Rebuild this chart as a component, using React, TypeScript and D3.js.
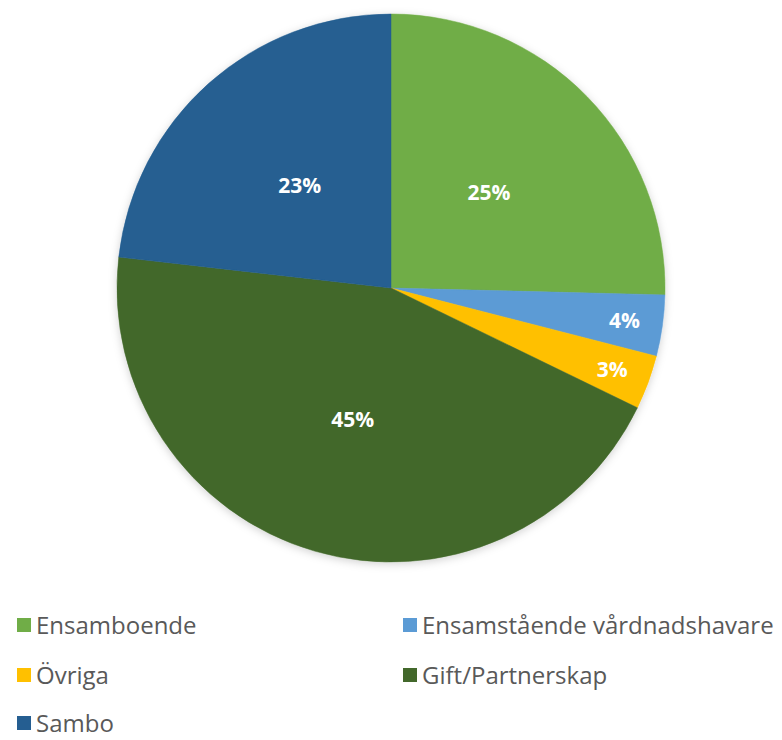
import React from "react";
import * as d3 from "d3";

const categories = ["Ensamboende", "Ensamstående vårdnadshavare", "Övriga", "Gift/Partnerskap", "Sambo"];
const values = [25.4, 3.6, 3.2, 44.6, 23.2];
const colors = ["#70AD47", "#5B9BD5", "#FFC000", "#43682B", "#255E91"];

const W = 782;
const H = 740;
const cx = 391;
const cy = 288;
const R = 274;

export default function App() {
  const data = categories.map((c, i) => ({ name: c, value: values[i], color: colors[i] }));
  const pie = d3.pie<any>().sort(null).value((d: any) => d.value);
  const arcs = pie(data);
  const arcGen = d3.arc<any>().innerRadius(0).outerRadius(R);
  const total = d3.sum(values);
  const fmt = (v: number) => `${Math.round((v / total) * 100)}%`;

  const legendCols = [17, 403];
  const legendRows = [625, 675, 723];

  return (
    <svg width={W} height={H} style={{ position: "absolute", left: 0, top: 0, background: "#fff" }}>
      <defs>
        <filter id="sh" x="-10%" y="-10%" width="120%" height="120%">
          <feDropShadow dx="0" dy="2" stdDeviation="4" floodColor="#000" floodOpacity="0.18" />
        </filter>
      </defs>
      <g transform={`translate(${cx},${cy})`}>
        <g filter="url(#sh)">
          {arcs.map((a, i) => (
            <path key={i} d={arcGen(a) as string} fill={a.data.color} stroke={a.data.color} strokeWidth={0.5} />
          ))}
        </g>
        {arcs.map((a, i) => {
          const rr = a.data.value < 10 ? R * 0.86 : R * 0.5;
          const lab = d3.arc<any>().innerRadius(rr).outerRadius(rr);
          const [x, y] = lab.centroid(a);
          return (
            <text
              key={"l" + i}
              x={x}
              y={y}
              dy="0.36em"
              textAnchor="middle"
              fill="#fff"
              fontFamily="'Open Sans', sans-serif"
              fontWeight={700}
              fontSize={21}
            >
              {fmt(a.data.value)}
            </text>
          );
        })}
      </g>
      <g>
        {data.map((d, i) => {
          const col = i % 2;
          const row = Math.floor(i / 2);
          const x = legendCols[col];
          const y = legendRows[row];
          return (
            <g key={"lg" + i} transform={`translate(${x},${y})`}>
              <rect x={0} y={-7} width={14} height={14} fill={d.color} />
              <text
                x={19}
                y={0}
                dy="0.36em"
                fill="#595959"
                fontFamily="'Open Sans', sans-serif"
                fontSize={24}
              >
                {d.name}
              </text>
            </g>
          );
        })}
      </g>
    </svg>
  );
}
